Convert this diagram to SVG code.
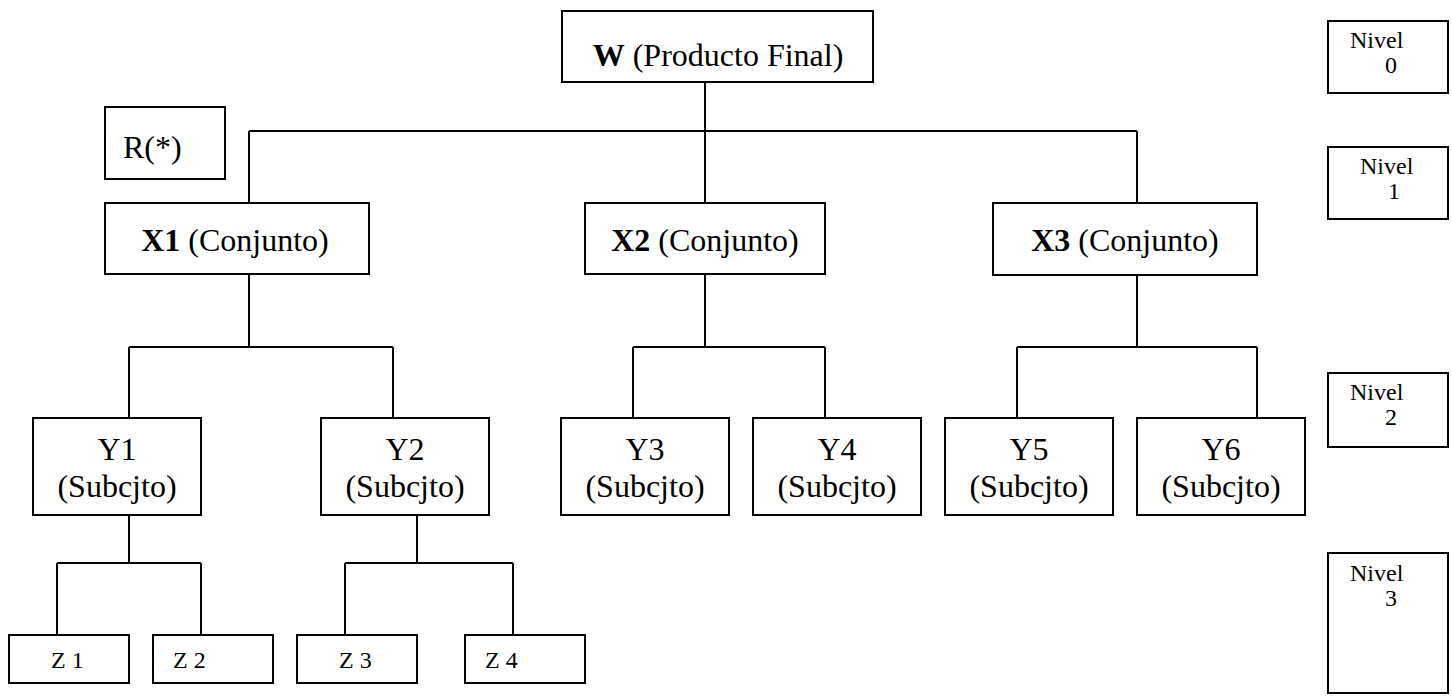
<svg xmlns="http://www.w3.org/2000/svg" width="1452" height="696" viewBox="0 0 1452 696">
<style>
rect.box{fill:#fff;stroke:#000;stroke-width:2}
.conn path{fill:none;stroke:#000;stroke-width:2}
.big{font-size:32px}
.sm{font-size:24px}
.nv{font-size:24px}
.mid{text-anchor:middle}
.b{font-weight:bold}
</style>
<rect width="1452" height="696" fill="#fff"/>
<g class="conn" id="connectors">
<path d="M705 82V131M249 131H1137M249 131V203M705 131V203M1137 131V203"/>
<path d="M249 274V347M129 347H393M129 347V418M393 347V418"/>
<path d="M705 274V347M633 347H825M633 347V418M825 347V418"/>
<path d="M1137 275V347M1017 347H1257M1017 347V418M1257 347V418"/>
<path d="M129 515V563M57 563H201M57 563V635M201 563V635"/>
<path d="M417 515V563M345 563H513M345 563V635M513 563V635"/>
</g>
<g font-family="Liberation Serif, DejaVu Serif, serif" fill="#000">
<g id="W"><rect class="box" x="562" y="11" width="311" height="71"/><text class="big mid" x="718" y="66"><tspan class="b">W</tspan> (Producto Final)</text></g>
<g id="R"><rect class="box" x="105" y="107" width="120" height="72"/><text class="big" x="123" y="158">R(*)</text></g>
<g id="X1"><rect class="box" x="105" y="203" width="264" height="71"/><text class="big mid" x="235" y="251"><tspan class="b">X1</tspan> (Conjunto)</text></g>
<g id="X2"><rect class="box" x="585" y="203" width="240" height="71"/><text class="big mid" x="705" y="251"><tspan class="b">X2</tspan> (Conjunto)</text></g>
<g id="X3"><rect class="box" x="993" y="203" width="264" height="72"/><text class="big mid" x="1125" y="251"><tspan class="b">X3</tspan> (Conjunto)</text></g>
<g id="Y1"><rect class="box" x="33" y="418" width="168" height="97"/><text class="big mid" x="117" y="460">Y1</text><text class="big mid" x="117" y="497">(Subcjto)</text></g>
<g id="Y2"><rect class="box" x="321" y="418" width="168" height="97"/><text class="big mid" x="405" y="460">Y2</text><text class="big mid" x="405" y="497">(Subcjto)</text></g>
<g id="Y3"><rect class="box" x="561" y="418" width="168" height="97"/><text class="big mid" x="645" y="460">Y3</text><text class="big mid" x="645" y="497">(Subcjto)</text></g>
<g id="Y4"><rect class="box" x="753" y="418" width="168" height="97"/><text class="big mid" x="837" y="460">Y4</text><text class="big mid" x="837" y="497">(Subcjto)</text></g>
<g id="Y5"><rect class="box" x="945" y="418" width="168" height="97"/><text class="big mid" x="1029" y="460">Y5</text><text class="big mid" x="1029" y="497">(Subcjto)</text></g>
<g id="Y6"><rect class="box" x="1137" y="418" width="168" height="97"/><text class="big mid" x="1221" y="460">Y6</text><text class="big mid" x="1221" y="497">(Subcjto)</text></g>
<g id="Z1"><rect class="box" x="9" y="635" width="120" height="48"/><text class="sm" x="51" y="668">Z 1</text></g>
<g id="Z2"><rect class="box" x="153" y="635" width="120" height="48"/><text class="sm" x="173" y="668">Z 2</text></g>
<g id="Z3"><rect class="box" x="297" y="635" width="120" height="48"/><text class="sm" x="339" y="668">Z 3</text></g>
<g id="Z4"><rect class="box" x="465" y="635" width="120" height="48"/><text class="sm" x="485" y="668">Z 4</text></g>
<g id="N0"><rect class="box" x="1328" y="21" width="120" height="72"/><text class="nv" x="1350" y="48">Nivel</text><text class="nv" x="1385" y="73">0</text></g>
<g id="N1"><rect class="box" x="1328" y="147" width="120" height="72"/><text class="nv" x="1360" y="174">Nivel</text><text class="nv" x="1388" y="199">1</text></g>
<g id="N2"><rect class="box" x="1328" y="373" width="120" height="74"/><text class="nv" x="1350" y="400">Nivel</text><text class="nv" x="1385" y="425">2</text></g>
<g id="N3"><rect class="box" x="1328" y="553" width="120" height="140"/><text class="nv" x="1350" y="581">Nivel</text><text class="nv" x="1385" y="606">3</text></g>
</g>
</svg>
